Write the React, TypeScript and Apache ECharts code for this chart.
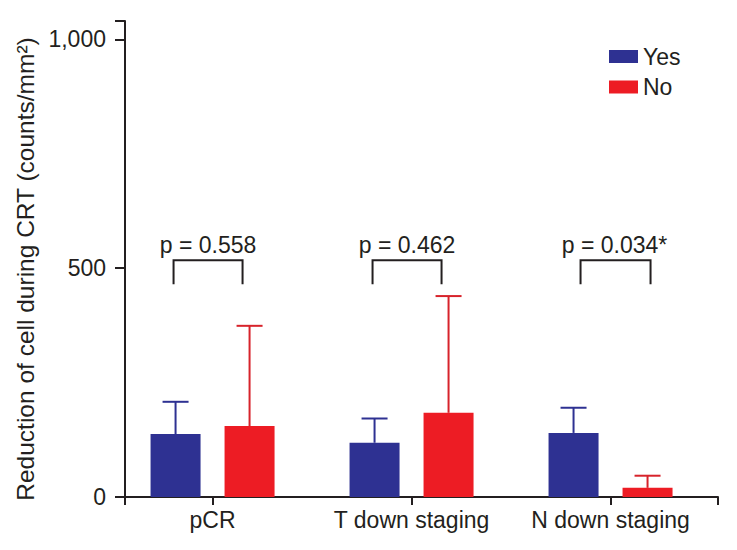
import React, { useEffect, useRef } from "react";
import * as echarts from "echarts";

// ---- data ----
const categories = ["pCR", "T down staging", "N down staging"];
const seriesNames = ["Yes", "No"];
const yesMean = [137.5, 118.5, 140];
const yesSD = [70.5, 53, 55];
const noMean = [155, 184, 20];
const noSD = [219, 255, 26.5];
const pValues = ["p = 0.558", "p = 0.462", "p = 0.034*"];
const yTicks = [0, 500, 1000];
const yMax = 1040;
const yAxisName = "Reduction of cell during CRT (counts/mm²)";

// ---- styles / layout ----
const BLUE = "#2e3192";
const RED = "#ed1c24";
const RED_ERR = "#d7232b";
const INK = "#231f20";
const FONT = "'Liberation Sans', Arial, Helvetica, sans-serif";
const FS = 23;
const NAME_FS = 24.5;
const BAR_W = 50;
const BAR_GAP_PX = 24;
const HALF = (BAR_W + BAR_GAP_PX) / 2;
const CAP = 13;
const X_MIN = -0.44;
const X_MAX = 2.54;
const BRACKET_LOW = 465;
const BRACKET_HIGH = 517;
const P_LABEL = 550;
const BRACKET_SPAN = [
  [-39, 30],
  [-39, 30],
  [-30, 40],
];
const P_SHIFT = [-4.5, -4.5, 4];

function errorSeries(name: string, means: number[], sds: number[], offset: number, color: string) {
  return {
    name,
    type: "custom",
    z: 5,
    silent: true,
    data: means.map((m, i) => [i, m, sds[i]]),
    renderItem: (_p: any, api: any) => {
      const x = api.value(0);
      const m = api.value(1);
      const sd = api.value(2);
      const base = api.coord([x, m]);
      const top = api.coord([x, m + sd]);
      const cx = base[0] + offset;
      return {
        type: "group",
        children: [
          { type: "line", shape: { x1: cx, y1: base[1], x2: cx, y2: top[1] }, style: { stroke: color, lineWidth: 2 } },
          { type: "line", shape: { x1: cx - CAP, y1: top[1], x2: cx + CAP, y2: top[1] }, style: { stroke: color, lineWidth: 2 } },
        ],
      };
    },
  };
}

export default function App() {
  const ref = useRef<HTMLDivElement>(null);
  useEffect(() => {
    if (!ref.current) return;
    const chart = echarts.init(ref.current, undefined, { renderer: "svg" });
    chart.setOption({
      animation: false,
      backgroundColor: "#ffffff",
      textStyle: { fontFamily: FONT, color: INK },
      grid: { left: 125, right: 19, top: 21, bottom: 53, containLabel: false },
      legend: {
        data: seriesNames,
        orient: "vertical",
        left: 609,
        top: 45,
        padding: 0,
        itemWidth: 29,
        itemHeight: 13,
        itemGap: 7.5,
        icon: "rect",
        textStyle: { fontSize: FS, fontFamily: FONT, color: INK, lineHeight: 22 },
      },
      xAxis: {
        type: "value",
        min: X_MIN,
        max: X_MAX,
        splitLine: { show: false },
        axisLine: { show: true, onZero: false, lineStyle: { color: INK, width: 2 } },
        axisTick: { show: true, length: 8, lineStyle: { color: INK, width: 2 }, customValues: [X_MIN, 0, 1, 2, X_MAX] },
        axisLabel: {
          customValues: [0, 1, 2],
          formatter: (v: number) => categories[Math.round(v)] ?? "",
          margin: 11,
          fontSize: FS,
          fontFamily: FONT,
          color: INK,
        },
      },
      yAxis: {
        type: "value",
        min: 0,
        max: yMax,
        interval: 500,
        splitLine: { show: false },
        axisLine: { show: true, onZero: false, lineStyle: { color: INK, width: 2 } },
        axisTick: { show: true, length: 10, lineStyle: { color: INK, width: 2 }, customValues: [...yTicks, yMax] },
        axisLabel: {
          customValues: yTicks,
          formatter: (v: number) => v.toLocaleString("en-US"),
          margin: 19,
          fontSize: FS,
          fontFamily: FONT,
          color: INK,
        },
        name: yAxisName,
        nameLocation: "middle",
        nameGap: 82,
        nameTextStyle: { fontSize: NAME_FS, fontFamily: FONT, color: INK, padding: [0, 20, 0, 0] },
      },
      series: [
        {
          name: seriesNames[0],
          type: "bar",
          barWidth: BAR_W,
          barGap: (BAR_GAP_PX / BAR_W) * 100 + "%",
          itemStyle: { color: BLUE },
          data: yesMean.map((v, i) => [i, v]),
        },
        {
          name: seriesNames[1],
          type: "bar",
          barWidth: BAR_W,
          barGap: (BAR_GAP_PX / BAR_W) * 100 + "%",
          itemStyle: { color: RED },
          data: noMean.map((v, i) => [i, v]),
        },
        errorSeries("yesErr", yesMean, yesSD, -HALF, BLUE),
        errorSeries("noErr", noMean, noSD, HALF, RED_ERR),
        {
          name: "pvals",
          type: "custom",
          silent: true,
          z: 6,
          data: pValues.map((_, i) => [i]),
          renderItem: (p: any, api: any) => {
            const i = p.dataIndex;
            const x = api.value(0);
            const hi = api.coord([x, BRACKET_HIGH]);
            const lo = api.coord([x, BRACKET_LOW]);
            const lab = api.coord([x, P_LABEL]);
            const xl = hi[0] + BRACKET_SPAN[i][0];
            const xr = hi[0] + BRACKET_SPAN[i][1];
            return {
              type: "group",
              children: [
                {
                  type: "polyline",
                  shape: { points: [[xl, lo[1]], [xl, hi[1]], [xr, hi[1]], [xr, lo[1]]] },
                  style: { stroke: INK, lineWidth: 2, fill: "none" },
                },
                {
                  type: "text",
                  x: lab[0] + P_SHIFT[i],
                  y: lab[1],
                  style: {
                    text: pValues[i],
                    fontSize: FS,
                    fontFamily: FONT,
                    fill: INK,
                    align: "center",
                    verticalAlign: "middle",
                  },
                },
              ],
            };
          },
        },
      ],
    });
    return () => chart.dispose();
  }, []);
  return <div ref={ref} style={{ position: "fixed", left: 0, top: 0, width: 737, height: 550 }} />;
}
